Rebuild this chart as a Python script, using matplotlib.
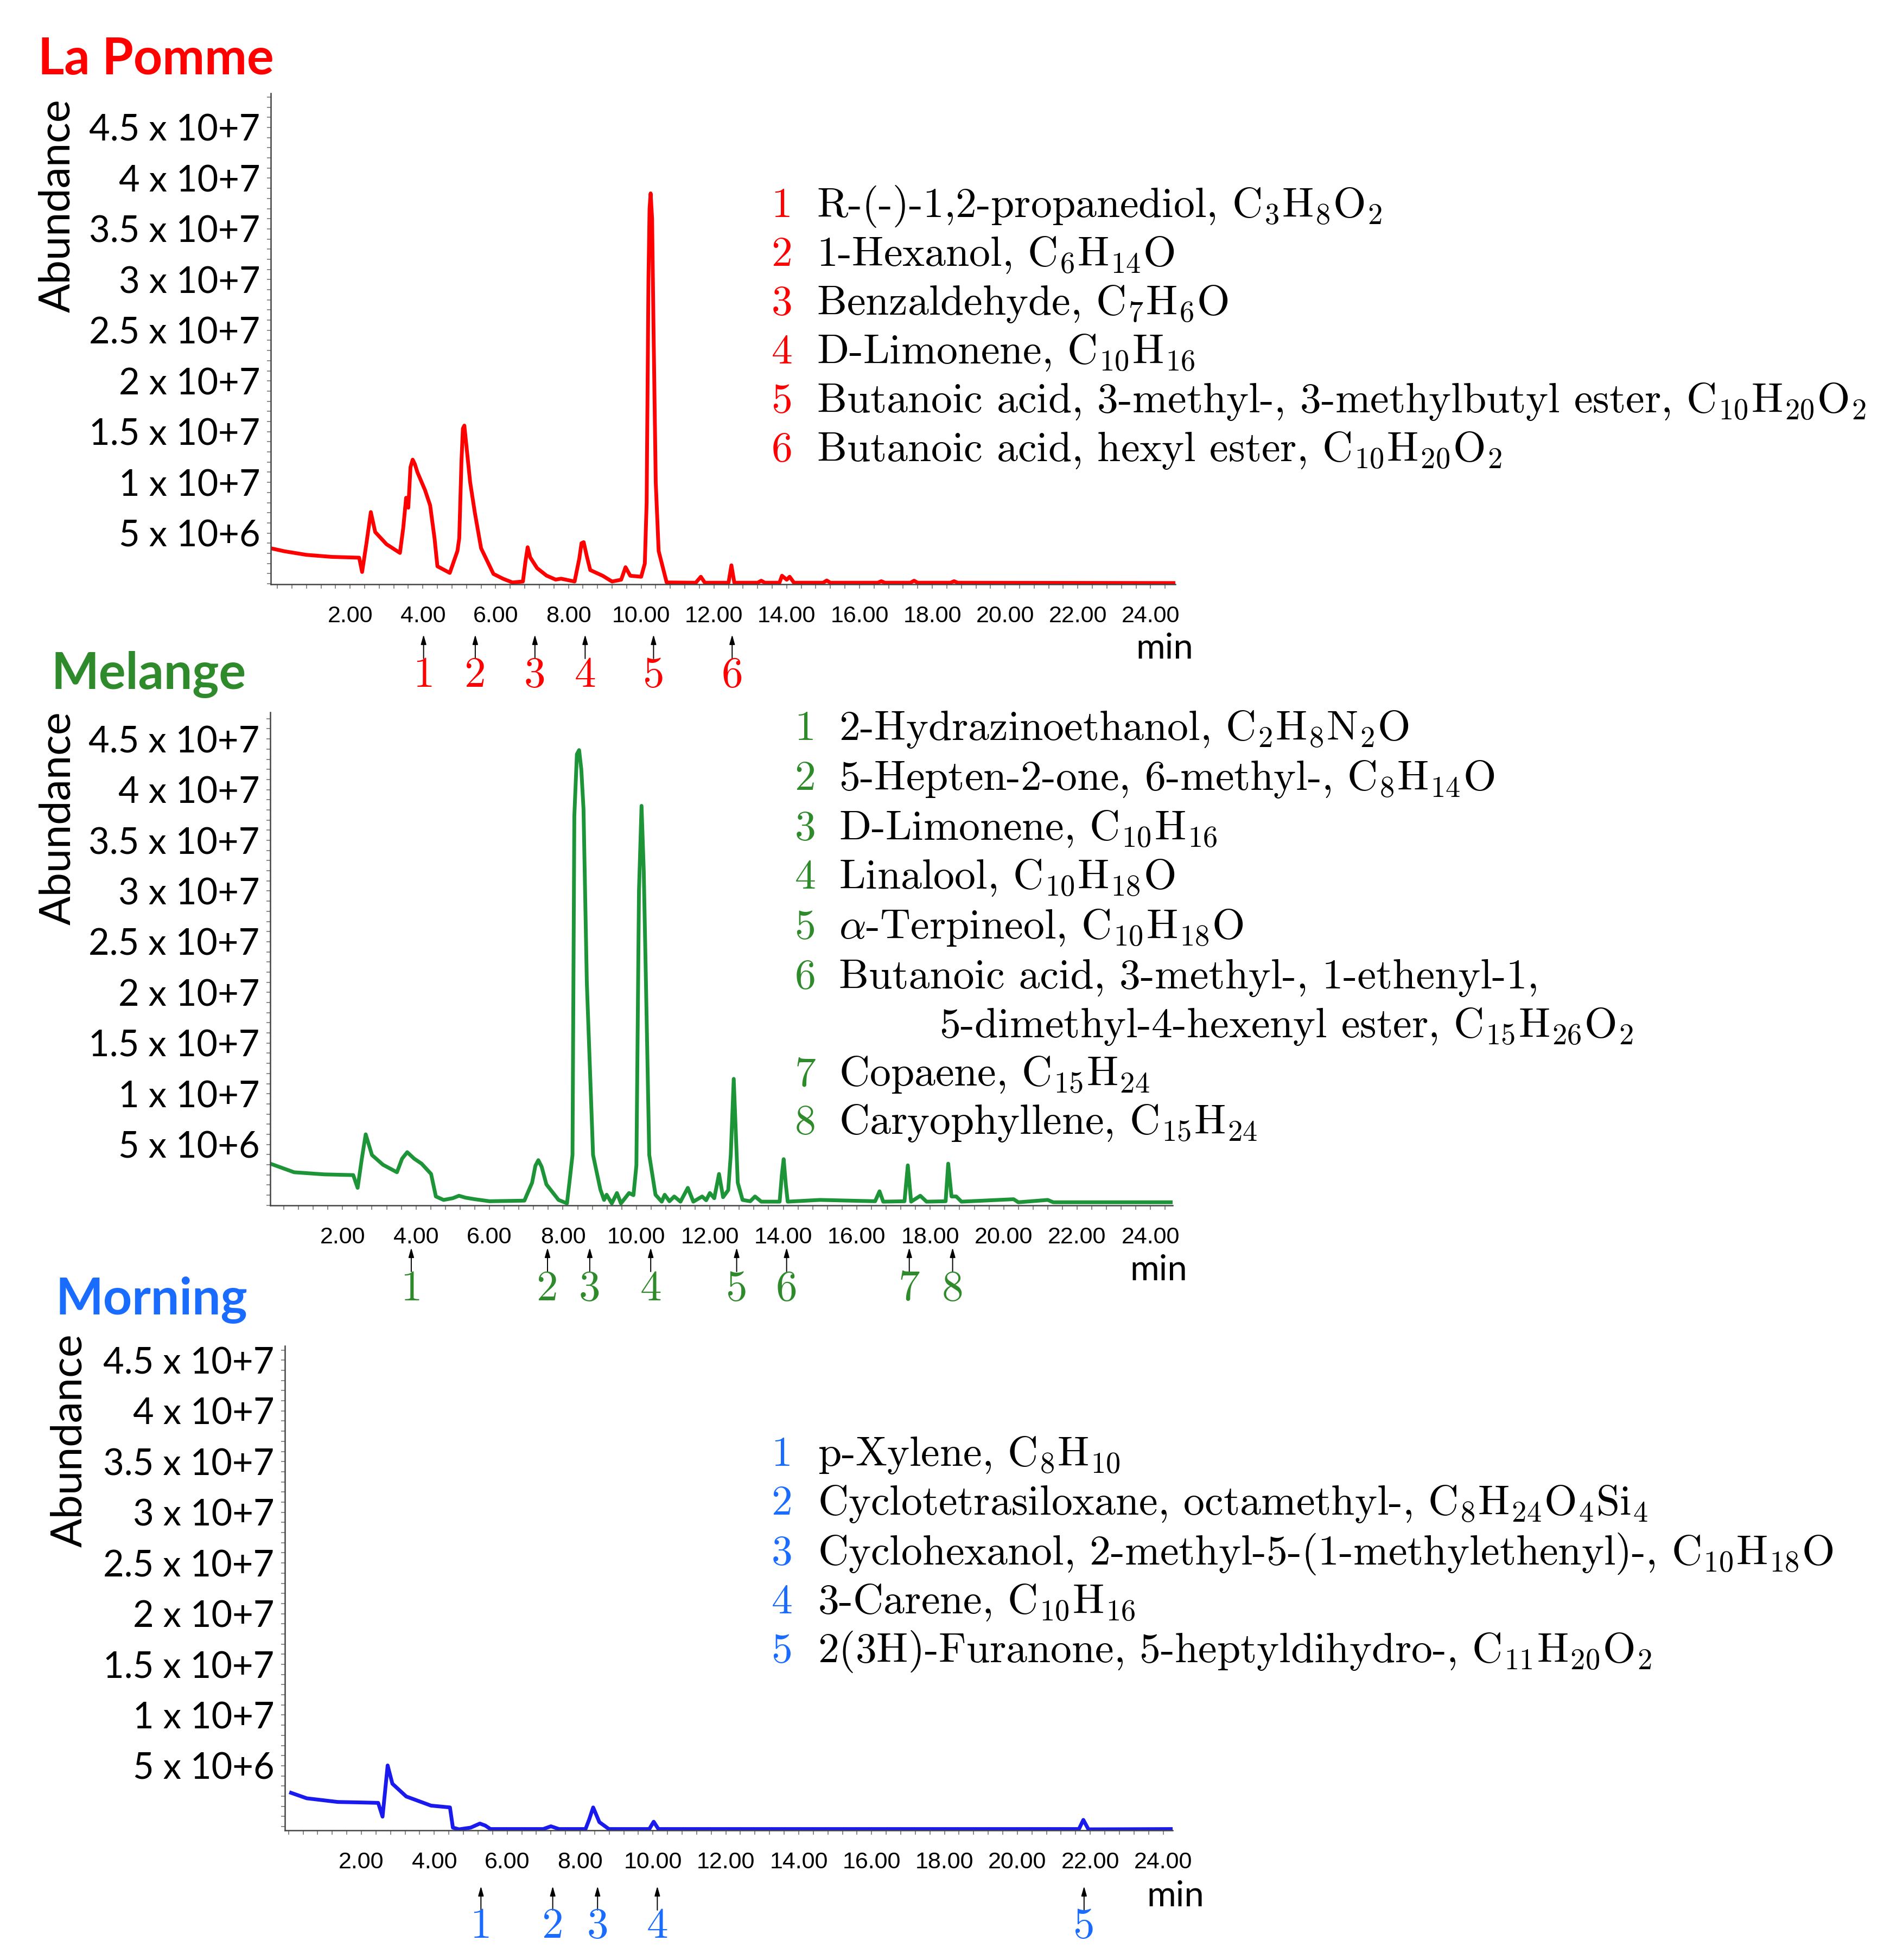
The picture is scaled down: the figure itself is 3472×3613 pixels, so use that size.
import matplotlib
matplotlib.use('Agg')
import matplotlib.pyplot as plt
from matplotlib import transforms
from matplotlib.ticker import MultipleLocator

W, H = 3472, 3613
plt.rcParams['mathtext.fontset'] = 'cm'

# retention time (min) / abundance (x 10^6)
pomme_t = [-0.18, 0.2, 0.8, 1.5, 2.25, 2.33, 2.45, 2.57, 2.69, 3.0, 3.37, 3.46, 3.54, 3.6,
           3.66, 3.72, 3.78, 3.85, 4.06, 4.2, 4.32, 4.4, 4.74, 4.95, 5.0, 5.06, 5.1, 5.14,
           5.2, 5.3, 5.43, 5.6, 5.94, 6.2, 6.46, 6.75, 6.82, 6.88, 6.95, 7.14, 7.4, 7.65,
           7.8, 8.17, 8.3, 8.36, 8.42, 8.5, 8.6, 8.94, 9.2, 9.45, 9.57, 9.7, 10.0, 10.1,
           10.15, 10.2, 10.23, 10.26, 10.3, 10.34, 10.4, 10.48, 10.7, 11.5, 11.64, 11.75,
           12.4, 12.48, 12.56, 13.2, 13.3, 13.4, 13.8, 13.87, 14.0, 14.08, 14.2, 15.0, 15.1,
           15.2, 16.5, 16.6, 16.7, 17.4, 17.5, 17.6, 18.5, 18.6, 18.7, 24.68]
pomme_a = [3.5, 3.2, 2.85, 2.65, 2.57, 1.16, 4.0, 7.07, 5.1, 3.9, 3.04, 5.48, 8.48, 7.5,
           11.5, 12.24, 11.8, 11.0, 9.23, 7.73, 4.5, 1.72, 1.07, 3.23, 4.5, 12.0, 15.3, 15.6,
           13.5, 10.0, 6.98, 3.5, 0.97, 0.5, 0.13, 0.22, 2.2, 3.6, 2.6, 1.54, 0.8, 0.41,
           0.5, 0.22, 2.5, 4.0, 4.1, 2.8, 1.35, 0.79, 0.22, 0.4, 1.63, 0.79, 0.69, 2.0,
           8.0, 30.0, 37.0, 38.5, 36.0, 25.0, 10.0, 3.23, 0.13, 0.1, 0.69, 0.1,
           0.1, 1.82, 0.1, 0.1, 0.3, 0.1, 0.1, 0.79, 0.4, 0.69, 0.1, 0.1, 0.32,
           0.1, 0.1, 0.25, 0.1, 0.1, 0.3, 0.1, 0.1, 0.25, 0.1, 0.07]

melange_t = [0.03, 0.68, 1.5, 2.29, 2.41, 2.52, 2.63, 2.8, 3.1, 3.48, 3.62, 3.76, 3.95,
             4.15, 4.41, 4.54, 4.75, 5.0, 5.17, 5.35, 5.6, 6.0, 6.95, 7.16, 7.25, 7.33, 7.42,
             7.55, 7.88, 8.11, 8.2, 8.26, 8.31, 8.38, 8.44, 8.5, 8.56, 8.65, 8.82, 9.02, 9.12,
             9.19, 9.33, 9.47, 9.58, 9.8, 9.92, 10.0, 10.07, 10.14, 10.2, 10.26, 10.35,
             10.52, 10.69, 10.77, 10.9, 11.03, 11.2, 11.4, 11.55, 11.79, 11.9, 12.0, 12.12,
             12.25, 12.36, 12.5, 12.57, 12.65, 12.76, 12.89, 13.1, 13.23, 13.4, 13.9, 13.96,
             14.01, 14.07, 14.12, 15.0, 16.5, 16.62, 16.72, 17.3, 17.39, 17.48, 17.73, 17.9,
             18.42, 18.49, 18.58, 18.71, 18.85, 20.27, 20.4, 21.2, 21.35, 24.6]
melange_a = [3.11, 2.26, 2.05, 1.98, 0.72, 3.5, 6.0, 3.96, 3.0, 2.26, 3.6, 4.24, 3.6,
             3.11, 2.09, -0.13, -0.47, -0.3, -0.06, -0.25, -0.4, -0.6, -0.54, 1.23, 2.9, 3.45, 2.8,
             1.06, -0.47, -0.81, 2.0, 3.96, 37.4, 43.5, 43.9, 42.0, 38.1, 21.0, 3.96, 0.55, -0.47,
             0.04, -0.81, 0.21, -0.81, 0.21, 0.0, 2.94, 30.0, 38.4, 32.0, 21.0, 3.96,
             0.04, -0.64, 0.04, -0.6, -0.13, -0.64, 0.72, -0.64, -0.13, -0.5, 0.21, -0.3,
             2.09, -0.2, 0.5, 4.0, 11.47, 1.23, -0.47, -0.6, -0.13, -0.64, -0.64, 2.0,
             3.55, 1.0, -0.64, -0.47, -0.6, 0.38, -0.64, -0.6, 2.94, -0.64, -0.06, -0.64,
             -0.6, 3.11, -0.13, -0.13, -0.64, -0.4, -0.7, -0.47, -0.7, -0.7]

morning_t = [0.07, 0.5, 1.35, 2.0, 2.46, 2.58, 2.72, 2.85, 3.23, 3.91, 4.43, 4.51, 4.68,
             5.0, 5.25, 5.4, 5.54, 6.99, 7.2, 7.42, 8.15, 8.25, 8.36, 8.53, 8.79, 9.9,
             10.02, 10.15, 21.69, 21.81, 21.95, 24.26]
morning_a = [2.33, 1.79, 1.43, 1.38, 1.34, -0.02, 5.03, 3.23, 1.97, 1.07, 0.89, -1.1, -1.27,
             -1.1, -0.7, -0.9, -1.24, -1.24, -0.97, -1.24, -1.24, -0.3, 0.89, -0.56, -1.24, -1.24,
             -0.52, -1.24, -1.24, -0.34, -1.27, -1.24]

# peak positions marked by arrows (min)
pomme_peaks = [4.02, 5.44, 7.08, 8.46, 10.34, 12.5]
melange_peaks = [3.87, 7.58, 8.73, 10.39, 12.73, 14.09, 17.43, 18.61]
morning_peaks = [5.28, 7.25, 8.48, 10.12, 21.83]

pomme_names = [
    r"R-(-)-1,2-propanediol, $\mathrm{C_3H_8O_2}$",
    r"1-Hexanol, $\mathrm{C_6H_{14}O}$",
    r"Benzaldehyde, $\mathrm{C_7H_6O}$",
    r"D-Limonene, $\mathrm{C_{10}H_{16}}$",
    r"Butanoic acid, 3-methyl-, 3-methylbutyl ester, $\mathrm{C_{10}H_{20}O_2}$",
    r"Butanoic acid, hexyl ester, $\mathrm{C_{10}H_{20}O_2}$",
]
melange_names = [
    r"2-Hydrazinoethanol, $\mathrm{C_2H_8N_2O}$",
    r"5-Hepten-2-one, 6-methyl-, $\mathrm{C_8H_{14}O}$",
    r"D-Limonene, $\mathrm{C_{10}H_{16}}$",
    r"Linalool, $\mathrm{C_{10}H_{18}O}$",
    r"$\alpha$-Terpineol, $\mathrm{C_{10}H_{18}O}$",
    "Butanoic acid, 3-methyl-, 1-ethenyl-1,\n" + r"5-dimethyl-4-hexenyl ester, $\mathrm{C_{15}H_{26}O_2}$",
    r"Copaene, $\mathrm{C_{15}H_{24}}$",
    r"Caryophyllene, $\mathrm{C_{15}H_{24}}$",
]
morning_names = [
    r"p-Xylene, $\mathrm{C_8H_{10}}$",
    r"Cyclotetrasiloxane, octamethyl-, $\mathrm{C_8H_{24}O_4Si_4}$",
    r"Cyclohexanol, 2-methyl-5-(1-methylethenyl)-, $\mathrm{C_{10}H_{18}O}$",
    r"3-Carene, $\mathrm{C_{10}H_{16}}$",
    r"2(3H)-Furanone, 5-heptyldihydro-, $\mathrm{C_{11}H_{20}O_2}$",
]

ytick_vals = [5, 10, 15, 20, 25, 30, 35, 40, 45]
ytick_labels = ['5 x 10+6', '1 x 10+7', '1.5 x 10+7', '2 x 10+7', '2.5 x 10+7',
                '3 x 10+7', '3.5 x 10+7', '4 x 10+7', '4.5 x 10+7']
xtick_vals = [2, 4, 6, 8, 10, 12, 14, 16, 18, 20, 22, 24]
xtick_labels = ['2.00', '4.00', '6.00', '8.00', '10.00', '12.00', '14.00', '16.00',
                '18.00', '20.00', '22.00', '24.00']

SERIF = ['cmr10', 'DejaVu Serif']
SANS = ['Lato', 'DejaVu Sans']


def fy(px):
    return 1 - px / H


fig = plt.figure(figsize=(W / 100, H / 100), dpi=100)


def panel(box, xlim, ylim, t, a, line_color, num_color, title, title_xy, ylab_xy,
          peaks, arrow_px, min_xy, names, legend_x, legend_y, cont_x=None):
    left, right, top, bottom = box
    ax = fig.add_axes([left / W, 1 - bottom / H, (right - left) / W, (bottom - top) / H])
    ax.plot(t, a, color=line_color, lw=5, solid_joinstyle='round')
    ax.set_xlim(*xlim)
    ax.set_ylim(*ylim)
    for s in ['top', 'right']:
        ax.spines[s].set_visible(False)
    for s in ['left', 'bottom']:
        ax.spines[s].set_color('#444444')
        ax.spines[s].set_linewidth(1.8)
    ax.set_yticks(ytick_vals, ytick_labels, fontsize=48, family=SANS)
    ax.set_xticks(xtick_vals, xtick_labels, fontsize=31, family=['Liberation Sans', 'DejaVu Sans'])
    ax.xaxis.set_minor_locator(MultipleLocator(0.4))
    ax.yaxis.set_minor_locator(MultipleLocator(1))
    ax.tick_params(axis='y', which='both', length=5, width=1.2, color='#777777', pad=9)
    ax.tick_params(axis='x', which='both', length=6, width=1.2, color='#777777', pad=22)

    fig.text(title_xy[0] / W, fy(title_xy[1]), title, color=num_color, fontsize=67,
             fontweight='bold', family=SANS, ha='left', va='baseline')
    fig.text(ylab_xy[0] / W, fy(ylab_xy[1]), 'Abundance', rotation=90, fontsize=57,
             family=SANS, ha='center', va='center')
    fig.text(min_xy[0] / W, fy(min_xy[1]), 'min', fontsize=47, family=SANS,
             ha='center', va='center')

    trans = transforms.blended_transform_factory(ax.transData, fig.transFigure)
    tip, base, num = arrow_px
    for i, pk in enumerate(peaks):
        ax.annotate('', xy=(pk, fy(tip)), xytext=(pk, fy(base)), xycoords=trans,
                    textcoords=trans, annotation_clip=False,
                    arrowprops=dict(arrowstyle='-|>,head_length=0.35,head_width=0.1',
                                    color='black', lw=1.4, shrinkA=0, shrinkB=0,
                                    mutation_scale=30))
        ax.text(pk, fy(num), str(i + 1), transform=trans, ha='center', va='center',
                fontsize=57, family=SERIF, color=num_color)

    for i, (name, y) in enumerate(zip(names, legend_y)):
        fig.text(legend_x[0] / W, fy(y), str(i + 1), color=num_color, fontsize=56,
                 family=SERIF, ha='center', va='baseline')
        if '\n' in name:
            first, second = name.split('\n')
            fig.text(legend_x[1] / W, fy(y), first, fontsize=56, family=SERIF,
                     ha='left', va='baseline')
            fig.text(cont_x / W, fy(y + 90), second, fontsize=56, family=SERIF,
                     ha='left', va='baseline')
        else:
            fig.text(legend_x[1] / W, fy(y), name, fontsize=56, family=SERIF,
                     ha='left', va='baseline')
    return ax


panel((499, 2166, 172, 1077), (-0.18, 24.68), (-0.05, 48.37), pomme_t, pomme_a,
      '#ff0000', '#ff0000', 'La Pomme', (70, 137), (106, 379),
      pomme_peaks, (1170, 1214, 1246), (2146, 1196), pomme_names,
      (1441, 1505), [400, 490, 580, 670, 760, 850])

panel((498, 2161, 1313, 2222), (0.03, 24.6), (-1.01, 47.63), melange_t, melange_a,
      '#1e9438', '#2e8a2a', 'Melange', (94, 1270), (107, 1508),
      melange_peaks, (2300, 2344, 2377), (2135, 2341), melange_names,
      (1484, 1546), [1364, 1456, 1548, 1638, 1730, 1822, 2001, 2090], cont_x=1731)

panel((525, 2161, 2481, 3374), (-0.1, 24.26), (-1.37, 46.41), morning_t, morning_a,
      '#1a1aee', '#1a6cff', 'Morning', (102, 2423), (128, 2655),
      morning_peaks, (3477, 3521, 3552), (2166, 3495), morning_names,
      (1441, 1507), [2702, 2792, 2884, 2974, 3064])

fig.savefig('out.png', dpi=100)
